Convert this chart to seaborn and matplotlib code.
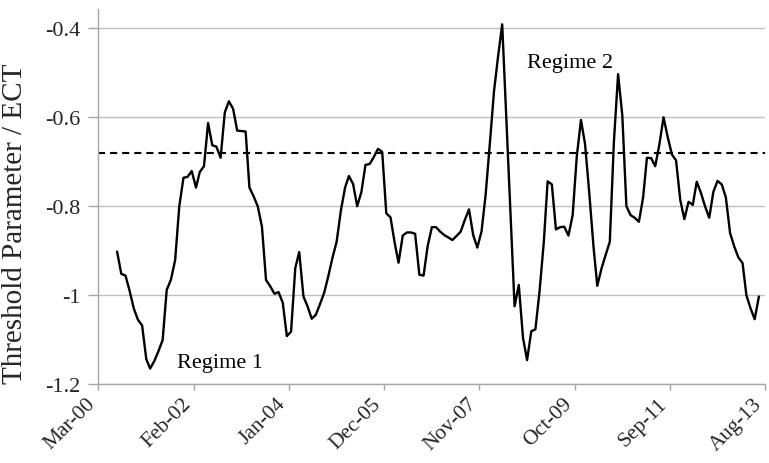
import matplotlib
matplotlib.use("Agg")
import matplotlib.pyplot as plt
import matplotlib.transforms as mtransforms
import numpy as np
import pandas as pd
import seaborn as sns

# ---- data (monthly threshold parameter estimates) ----
start_month = "2000-07-01"
values = [
    -0.902, -0.952, -0.956, -0.990, -1.030, -1.055, -1.068, -1.144, -1.165, -1.148, -1.126, -1.101,
    -0.988, -0.965, -0.921, -0.801, -0.736, -0.734, -0.721, -0.758, -0.723, -0.710, -0.613, -0.663,
    -0.666, -0.691, -0.589, -0.564, -0.581, -0.630, -0.631, -0.632, -0.758, -0.778, -0.800, -0.846,
    -0.966, -0.980, -0.997, -0.993, -1.017, -1.092, -1.082, -0.939, -0.903, -1.003, -1.025, -1.053,
    -1.044, -1.020, -0.994, -0.957, -0.915, -0.880, -0.810, -0.758, -0.732, -0.750, -0.800, -0.768,
    -0.707, -0.705, -0.689, -0.671, -0.678, -0.816, -0.825, -0.883, -0.927, -0.866, -0.859, -0.859,
    -0.862, -0.954, -0.956, -0.890, -0.847, -0.847, -0.857, -0.865, -0.870, -0.876, -0.867, -0.857,
    -0.831, -0.807, -0.865, -0.893, -0.857, -0.775, -0.660, -0.541, -0.465, -0.391, -0.600, -0.820,
    -1.025, -0.977, -1.096, -1.146, -1.081, -1.077, -0.990, -0.880, -0.744, -0.751, -0.852, -0.847,
    -0.846, -0.866, -0.820, -0.689, -0.606, -0.660, -0.770, -0.890, -0.979, -0.940, -0.910, -0.880,
    -0.656, -0.503, -0.596, -0.800, -0.820, -0.826, -0.835, -0.780, -0.691, -0.692, -0.710, -0.660,
    -0.600, -0.645, -0.684, -0.697, -0.786, -0.829, -0.790, -0.797, -0.745, -0.770, -0.800, -0.826,
    -0.768, -0.743, -0.751, -0.780, -0.860, -0.890, -0.915, -0.928, -1.000, -1.030, -1.054, -1.003,
]
threshold = -0.68
tick_dates = ["2000-03-01", "2002-02-01", "2004-01-01", "2005-12-01",
              "2007-11-01", "2009-10-01", "2011-09-01", "2013-08-01"]
tick_labels = ["Mar-00", "Feb-02", "Jan-04", "Dec-05", "Nov-07", "Oct-09", "Sep-11", "Aug-13"]
y_ticks = [-1.2, -1.0, -0.8, -0.6, -0.4]
y_tick_labels = ["-1.2", "-1", "-0.8", "-0.6", "-0.4"]
annotations = [("Regime 1", "2001-10-01", -1.162), ("Regime 2", "2008-10-15", -0.488)]

dates = pd.date_range(start_month, periods=len(values), freq="MS") + pd.Timedelta(days=15)
df = pd.DataFrame({"date": dates, "value": values})

sns.set_theme(style="white")
plt.rcParams["font.family"] = ["Liberation Serif", "DejaVu Serif"]

fig = plt.figure(figsize=(7.69, 4.64), dpi=100)
ax = fig.add_axes([0.128, 0.170, 0.867, 0.808])

grid_c = "#bfbfbf"
for yv in y_ticks:
    ax.axhline(yv, color=grid_c, lw=1.0, zorder=0)

sns.lineplot(data=df, x="date", y="value", ax=ax, color="black", lw=1.7, zorder=3)
ax.axhline(threshold, color="black", lw=1.5, ls=(0, (3.4, 2.4)), zorder=2)

for text, d, yv in annotations:
    ax.text(pd.Timestamp(d), yv, text, fontsize=16, ha="left", va="baseline", color="black")

for s in ["top", "right"]:
    ax.spines[s].set_visible(False)
for s in ["left", "bottom"]:
    ax.spines[s].set_color("#a6a6a6")
    ax.spines[s].set_linewidth(1.0)
ax.grid(False)

ax.set_xlim(pd.Timestamp(tick_dates[0]), pd.Timestamp(tick_dates[-1]))
ax.set_ylim(-1.2, -0.357)
ax.set_xticks([pd.Timestamp(d) for d in tick_dates])
ax.set_yticks(y_ticks)
ax.tick_params(axis="x", direction="out", length=4, width=1, color="#a6a6a6", pad=3, bottom=True)
ax.tick_params(axis="y", direction="out", length=7, width=1, color="#a6a6a6", pad=6, left=True)
ax.set_xticklabels(tick_labels, rotation=45, ha="right", va="top",
                   rotation_mode="anchor", fontsize=15.5)
ax.set_yticklabels(y_tick_labels, fontsize=16)
ax.set_xlabel("")
ax.set_ylabel("Threshold Parameter / ECT", fontsize=21)
ax.yaxis.set_label_coords(-0.106, 0.43)

shift = mtransforms.ScaledTranslation(-9 / 72, 0, fig.dpi_scale_trans)
for lbl in ax.get_xticklabels():
    lbl.set_transform(lbl.get_transform() + shift)

fig.savefig("out.png", dpi=100)
